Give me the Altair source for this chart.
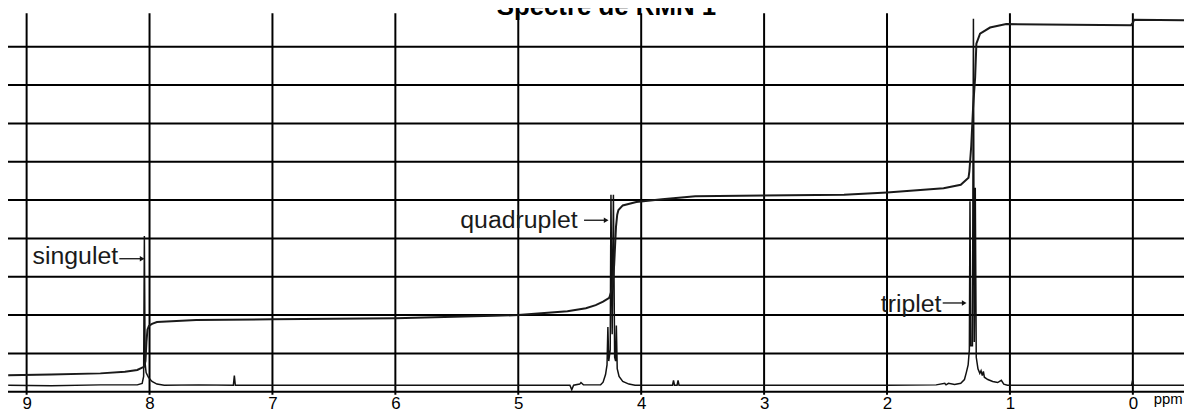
import altair as alt
import pandas as pd

# ---------------- data ----------------
# grid: one vertical line per ppm, horizontal lines every grid unit
grid_ppm = [9, 8, 7, 6, 5, 4, 3, 2, 1, 0]
grid_levels = [0, 1, 2, 3, 4, 5, 6, 7, 8, 9]

# spectrum trace (chemical shift in ppm, height in grid units)
spec_ppm = [9.15, 8.80, 8.40, 8.10, 8.06, 8.048, 8.042, 8.036, 8.028, 8.01, 7.98, 7.94, 7.88,
            7.60, 7.318, 7.31, 7.302, 6.80, 6.00, 5.40, 4.90, 4.58, 4.565, 4.55, 4.50, 4.49,
            4.47, 4.33, 4.31, 4.29, 4.278, 4.271, 4.264, 4.252, 4.246, 4.236, 4.226, 4.216,
            4.208, 4.202, 4.195, 4.18, 4.15, 4.10, 4.05, 3.80, 3.745, 3.737, 3.729, 3.708,
            3.700, 3.692, 3.30, 2.60, 2.00, 1.60, 1.53, 1.52, 1.50, 1.45, 1.40, 1.37, 1.355,
            1.34, 1.33, 1.325, 1.318, 1.305, 1.297, 1.290, 1.282, 1.274, 1.26, 1.245, 1.235,
            1.225, 1.216, 1.208, 1.18, 1.14, 1.10, 1.07, 1.05, 1.02, 0.60, 0.010, 0.002,
            -0.006, -0.42]
spec_val = [0.17, 0.16, 0.18, 0.18, 0.22, 0.40, 4.06, 0.75, 0.50, 0.38, 0.27, 0.20, 0.17,
            0.18, 0.17, 0.42, 0.17, 0.17, 0.17, 0.17, 0.17, 0.17, 0.05, 0.17, 0.20, 0.24,
            0.18, 0.18, 0.25, 0.45, 0.70, 1.69, 0.80, 1.10, 5.14, 1.50, 5.14, 0.90,
            0.80, 1.73, 0.60, 0.40, 0.27, 0.20, 0.17, 0.17, 0.17, 0.30, 0.17, 0.17,
            0.30, 0.17, 0.17, 0.17, 0.17, 0.18, 0.22, 0.18, 0.22, 0.19, 0.22, 0.32, 0.50,
            0.70, 1.10, 4.97, 1.20, 1.20, 9.73, 1.30, 5.32, 0.90, 0.60, 0.48, 0.55,
            0.42, 0.53, 0.38, 0.32, 0.27, 0.24, 0.30, 0.20, 0.17, 0.17, 0.17, 0.30,
            0.17, 0.17]

# integration curve
integ_ppm = [9.15, 8.80, 8.40, 8.20, 8.10, 8.06, 8.045, 8.033, 8.025, 8.017, 8.005, 7.98,
             7.94, 7.62, 7.00, 6.00, 5.20, 5.00, 4.60, 4.45, 4.37, 4.31, 4.26, 4.235, 4.22,
             4.205, 4.195, 4.185, 4.15, 4.04, 3.83, 3.56, 2.35, 2.00, 1.54, 1.40, 1.337,
             1.33, 1.315, 1.30, 1.283, 1.273, 1.243, 1.162, 1.03, 0.50, 0.015, 0.000,
             -0.010, -0.42]
integ_val = [0.43, 0.45, 0.48, 0.52, 0.57, 0.63, 0.65, 0.80, 1.30, 1.62, 1.72, 1.77,
             1.82, 1.87, 1.89, 1.92, 1.98, 2.00, 2.10, 2.18, 2.26, 2.35, 2.45, 2.70, 3.30,
             4.30, 4.62, 4.74, 4.86, 4.95, 5.02, 5.10, 5.14, 5.20, 5.31, 5.40, 5.58,
             5.75, 6.40, 7.40, 8.20, 9.08, 9.34, 9.50, 9.59, 9.57, 9.56, 9.62,
             9.70, 9.69]

# annotations
labels = ["singulet", "quadruplet", "triplet"]
label_ppm = [8.952, 5.472, 2.051]
label_val = [3.33, 4.277, 2.09]
arrow_from = [8.246, 4.465, 1.547]
arrow_to = [8.060, 4.285, 1.372]
arrow_val = [3.47, 4.474, 2.316]

# title (cut off at the top edge in the original) and unit label
title_text = ["Spectre de RMN 1"]
title_ppm = [4.283]
title_val = [9.83]
unit_text = ["ppm"]
unit_ppm = [-0.17]
unit_val = [-0.33]

# ---------------- chart ----------------
FONT = "Liberation Sans"
X_MIN, X_MAX = -0.4162, 9.1515
Y_MAX = 9.87

def xs():
    return alt.Scale(domain=[X_MIN, X_MAX], reverse=True, nice=False, zero=False)

def ys():
    return alt.Scale(domain=[0, Y_MAX], nice=False, zero=False)

def xa():
    return alt.Axis(
        values=grid_ppm, format="d", title=None, domain=False, ticks=False, grid=False,
        labelFont=FONT, labelFontSize=17, labelColor="#000", labelPadding=4,
        labelFlush=False, labelOverlap=False)

spec_df = pd.DataFrame({"ppm": spec_ppm, "v": spec_val, "i": range(len(spec_ppm))})
integ_df = pd.DataFrame({"ppm": integ_ppm, "v": integ_val, "i": range(len(integ_ppm))})
vgrid_df = pd.DataFrame({"ppm": grid_ppm, "y0": [-0.08] * len(grid_ppm), "y1": [Y_MAX] * len(grid_ppm)})
hgrid_df = pd.DataFrame({"lvl": grid_levels})
lab_df = pd.DataFrame({"t": labels, "ppm": label_ppm, "v": label_val})
arr_df = pd.DataFrame({"ppm": arrow_from, "b": arrow_to, "v": arrow_val})
head_df = pd.DataFrame({"ppm": arrow_to, "v": arrow_val})
unit_df = pd.DataFrame({"t": unit_text, "ppm": unit_ppm, "v": unit_val})
title_df = pd.DataFrame({"t": title_text, "ppm": title_ppm, "v": title_val})

X = alt.X("ppm:Q", scale=xs(), axis=xa())
Y = lambda f: alt.Y(f, scale=ys(), axis=None)

vgrid = alt.Chart(vgrid_df).mark_rule(color="#000", strokeWidth=2).encode(
    x=X, y=Y("y0:Q"), y2="y1:Q",
)

hgrid = alt.Chart(hgrid_df).mark_rule(color="#000", strokeWidth=2).encode(
    y=Y("lvl:Q"),
)

spectrum = alt.Chart(spec_df).mark_line(color="#111", strokeWidth=1.5).encode(
    x=X, y=Y("v:Q"), order="i:Q",
)

integral = alt.Chart(integ_df).mark_line(color="#1a1a1a", strokeWidth=2).encode(
    x=X, y=Y("v:Q"), order="i:Q",
)

texts = alt.Chart(lab_df).mark_text(
    align="left", baseline="alphabetic", font=FONT, fontSize=25, color="#1a1a1a"
).encode(x=X, y=Y("v:Q"), text="t:N")

arrow_lines = alt.Chart(arr_df).mark_rule(color="#111", strokeWidth=1.3).encode(
    x=X, x2="b:Q", y=Y("v:Q"),
)

arrow_heads = alt.Chart(head_df).mark_point(
    shape="triangle-right", size=30, filled=True, color="#111", opacity=1
).encode(x=X, y=Y("v:Q"))

unit = alt.Chart(unit_df).mark_text(
    align="left", baseline="alphabetic", font=FONT, fontSize=15, color="#000"
).encode(x=X, y=Y("v:Q"), text="t:N")

title = alt.Chart(title_df).mark_text(
    align="center", baseline="alphabetic", font=FONT, fontSize=26, fontWeight="bold",
    color="#000"
).encode(x=X, y=Y("v:Q"), text="t:N")

chart = alt.layer(
    vgrid, hgrid, spectrum, integral, texts, arrow_lines, arrow_heads, unit, title
).properties(
    width=1184,
    height=381,
    padding={"top": 4, "left": 0, "right": 0, "bottom": 22},
    autosize=alt.AutoSizeParams(type="none"),
    background="white",
).configure_view(stroke=None)

chart.save("out.html", embed_options={"renderer": "svg", "actions": False})
